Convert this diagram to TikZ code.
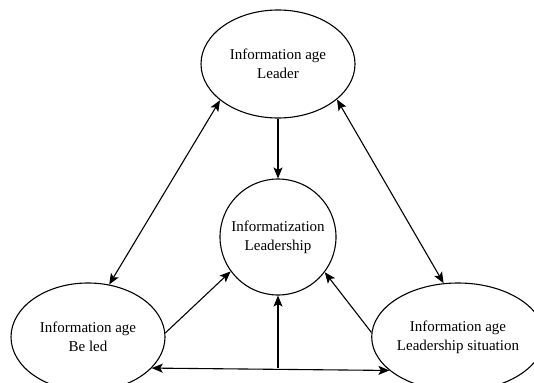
\documentclass[tikz,border=0pt]{standalone}
\usepackage{fontspec}
\setmainfont{Liberation Serif}
\usetikzlibrary{shapes.geometric,arrows.meta}
\begin{document}
\begin{tikzpicture}[x=1pt,y=-1pt,
  oval/.style={ellipse,draw,line width=1.1pt,minimum width=154pt,minimum height=108pt,inner sep=0pt,align=center,font=\fontsize{15}{19}\selectfont},
  rnd/.style={circle,draw,line width=1.1pt,minimum size=116pt,inner sep=0pt,align=center,font=\fontsize{15}{19}\selectfont},
  conn/.style={line width=1.1pt,-{Stealth[length=11pt,width=9pt,inset=2.5pt]}},
  dconn/.style={line width=1.1pt,{Stealth[length=11pt,width=9pt,inset=2.5pt]}-{Stealth[length=11pt,width=9pt,inset=2.5pt]}}]
\useasboundingbox (0,0) rectangle (534,382);
\node[oval] (top) at (278,64) {Information age\\Leader};
\node[rnd] (circ) at (278,237) {Informatization\\Leadership};
\node[oval] (left) at (88,337) {Information age\\Be led};
\node[oval] (right) at (458,337) {Information age\\Leadership situation};
\draw[dconn] (top.212.7) -- (left.68.5);
\draw[dconn] (top.329) -- (right.105);
\draw[conn] (top.south) -- (circ.north);
\draw[conn] (left.3) -- (circ.216.7);
\draw[conn] (right.177) -- (circ.323.3);
\draw[dconn] (left.-26.2) -- (right.206.2);
\draw[conn] (circ.south |- left.-26.2) -- (circ.south);
\end{tikzpicture}
\end{document}
